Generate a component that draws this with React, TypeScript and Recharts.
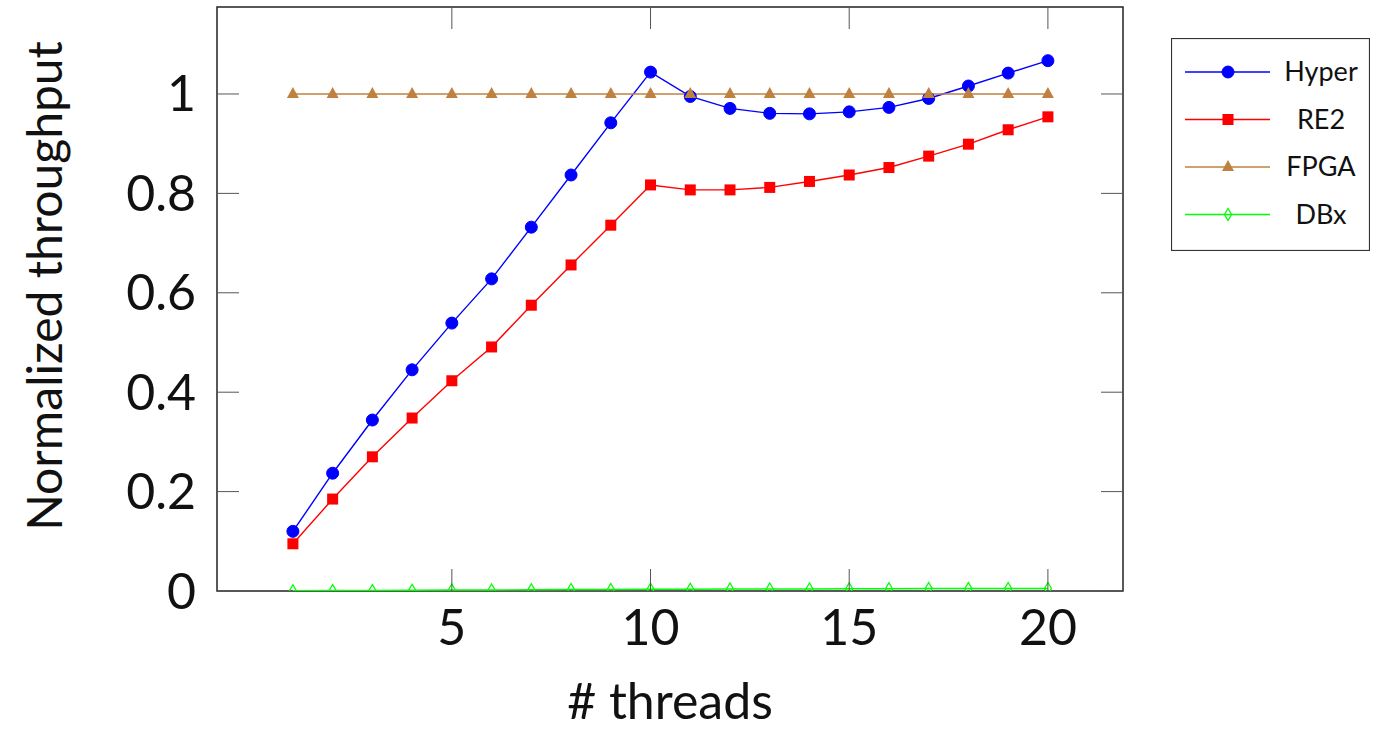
import * as React from 'react';
import { LineChart, Line, XAxis, YAxis, Label, ReferenceArea } from 'recharts';

// # threads
const threads = [1, 2, 3, 4, 5, 6, 7, 8, 9, 10, 11, 12, 13, 14, 15, 16, 17, 18, 19, 20];
const hyper = [0.12, 0.237, 0.344, 0.445, 0.539, 0.628, 0.732, 0.837, 0.942, 1.044, 0.995, 0.971, 0.961, 0.96, 0.964, 0.973, 0.991, 1.016, 1.042, 1.067];
const re2 = [0.095, 0.185, 0.27, 0.348, 0.423, 0.491, 0.575, 0.656, 0.736, 0.817, 0.807, 0.807, 0.812, 0.824, 0.837, 0.852, 0.875, 0.899, 0.928, 0.954];
const fpga = [1, 1, 1, 1, 1, 1, 1, 1, 1, 1, 1, 1, 1, 1, 1, 1, 1, 1, 1, 1];
const dbx = [0.0005, 0.001, 0.001, 0.0015, 0.002, 0.002, 0.0025, 0.003, 0.003, 0.0035, 0.0035, 0.004, 0.004, 0.004, 0.0045, 0.0045, 0.005, 0.005, 0.005, 0.005];
const xTicks = [5, 10, 15, 20];
const yTicks = [0, 0.2, 0.4, 0.6, 0.8, 1];

const data = threads.map((t, i) => ({ t, hyper: hyper[i], re2: re2[i], fpga: fpga[i], dbx: dbx[i] }));

const W = 1373;
const H = 734;
const TOP = 7;
const LEFT = 217;
const RIGHT = 1123;
const BOTTOM = 591;
const TICK = 22;
const X_DOMAIN = [-0.91, 21.89];
const Y_DOMAIN = [0, 1.175];
const FONT = 'Lato, "Open Sans", sans-serif';

const BLUE = '#0000ff';
const RED = '#ff0000';
const BROWN = '#bf8040';
const GREEN = '#00ff00';

const mark = (kind: string, cx: number, cy: number, key?: any) => {
  if (kind === 'circle') return <circle key={key} cx={cx} cy={cy} r={6} fill={BLUE} stroke={BLUE} />;
  if (kind === 'square') return <rect key={key} x={cx - 5.5} y={cy - 5.5} width={11} height={11} fill={RED} />;
  if (kind === 'triangle')
    return <polygon key={key} points={`${cx},${cy - 7} ${cx - 6},${cy + 4} ${cx + 6},${cy + 4}`} fill={BROWN} />;
  return (
    <polygon
      key={key}
      points={`${cx},${cy - 6} ${cx + 3.5},${cy} ${cx},${cy + 6} ${cx - 3.5},${cy}`}
      fill="none"
      stroke={GREEN}
      strokeWidth={1.3}
    />
  );
};

const dotFor = (kind: string) => (p: any) => mark(kind, p.cx, p.cy, `${kind}-${p.index}`);

const XTick = (props: any) => {
  const { x, payload } = props;
  return (
    <g>
      <line x1={x} y1={BOTTOM} x2={x} y2={BOTTOM - TICK} stroke="#555" strokeWidth={1} />
      <line x1={x} y1={TOP} x2={x} y2={TOP + TICK} stroke="#555" strokeWidth={1} />
      <text x={x} y={627} dy="0.35em" textAnchor="middle" fontSize={50} fontFamily={FONT} fill="#111">
        {payload.value}
      </text>
    </g>
  );
};

const YTick = (props: any) => {
  const { y, payload } = props;
  return (
    <g>
      <line x1={LEFT} y1={y} x2={LEFT + TICK} y2={y} stroke="#555" strokeWidth={1} />
      <line x1={RIGHT - TICK} y1={y} x2={RIGHT} y2={y} stroke="#555" strokeWidth={1} />
      <text x={196} y={y} dy="0.35em" textAnchor="end" fontSize={50} fontFamily={FONT} fill="#111">
        {payload.value}
      </text>
    </g>
  );
};

const legendItems = [
  { name: 'Hyper', color: BLUE, kind: 'circle' },
  { name: 'RE2', color: RED, kind: 'square' },
  { name: 'FPGA', color: BROWN, kind: 'triangle' },
  { name: 'DBx', color: GREEN, kind: 'diamond' },
];

const LegendBox = () => (
  <svg width={199} height={213} style={{ display: 'block' }}>
    <rect x={0.5} y={0.5} width={198} height={212} fill="#fff" stroke="#333" strokeWidth={1.2} />
    {legendItems.map((it, i) => {
      const cy = 34 + i * 47.5;
      return (
        <g key={it.name}>
          <line x1={14} y1={cy} x2={99} y2={cy} stroke={it.color} strokeWidth={1.3} />
          {mark(it.kind, 57, cy)}
          <text x={150} y={cy} dy="0.35em" textAnchor="middle" fontSize={27} fontFamily={FONT} fill="#111">
            {it.name}
          </text>
        </g>
      );
    })}
  </svg>
);

const App = () => {
  return (
    <div style={{ position: 'fixed', left: 0, top: 0, width: W, height: H, background: '#fff' }}>
      <LineChart
        width={W}
        height={H}
        data={data}
        margin={{ top: TOP, right: W - RIGHT, bottom: 0, left: 0 }}
      >
        <XAxis
          dataKey="t"
          type="number"
          domain={X_DOMAIN}
          ticks={xTicks}
          allowDataOverflow
          height={H - BOTTOM}
          tickLine={false}
          tick={<XTick />}
          axisLine={false}
        >
          <Label
            content={() => (
              <text
                x={(LEFT + RIGHT) / 2}
                y={BOTTOM + 128}
                textAnchor="middle"
                fontSize={50}
                fontFamily={FONT}
                fill="#111"
              >
                # threads
              </text>
            )}
          />
        </XAxis>
        <YAxis
          type="number"
          domain={Y_DOMAIN}
          ticks={yTicks}
          allowDataOverflow
          width={LEFT}
          tickLine={false}
          tick={<YTick />}
          axisLine={false}
        >
          <Label
            content={() => (
              <text
                x={62}
                y={286}
                transform="rotate(-90, 62, 286)"
                textAnchor="middle"
                fontSize={48}
                fontFamily={FONT}
                fill="#111"
              >
                Normalized throughput
              </text>
            )}
          />
        </YAxis>
        <ReferenceArea
          x1={X_DOMAIN[0]}
          x2={X_DOMAIN[1]}
          y1={Y_DOMAIN[0]}
          y2={Y_DOMAIN[1]}
          fill="none"
          fillOpacity={0}
          stroke="#222"
          strokeWidth={1.5}
          ifOverflow="visible"
        />
        <Line dataKey="hyper" name="Hyper" stroke={BLUE} strokeWidth={1.4} dot={dotFor('circle')} isAnimationActive={false} />
        <Line dataKey="re2" name="RE2" stroke={RED} strokeWidth={1.4} dot={dotFor('square')} isAnimationActive={false} />
        <Line dataKey="fpga" name="FPGA" stroke={BROWN} strokeWidth={1.4} dot={dotFor('triangle')} isAnimationActive={false} />
        <Line dataKey="dbx" name="DBx" stroke={GREEN} strokeWidth={1.4} dot={dotFor('diamond')} isAnimationActive={false} />
      </LineChart>
      <div style={{ position: 'absolute', left: 1171, top: 38 }}>
        <LegendBox />
      </div>
    </div>
  );
};

export default App;
